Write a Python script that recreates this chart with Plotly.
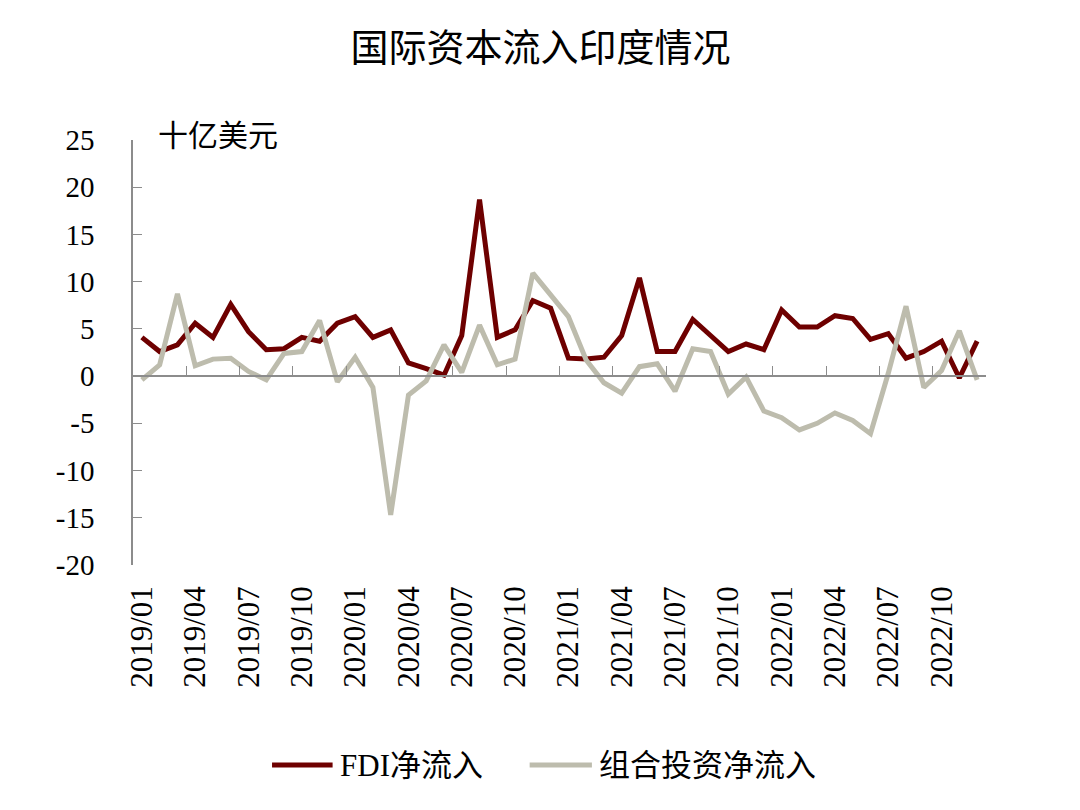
import plotly.graph_objects as go

# 月份 2019/01 - 2022/12
months = [f"{y}/{m:02d}" for y in range(2019, 2023) for m in range(1, 13)]

# FDI净流入（十亿美元）
fdi = [4.1, 2.6, 3.3, 5.6, 4.1, 7.6, 4.7, 2.8, 2.9, 4.1, 3.7, 5.6,
       6.3, 4.1, 4.9, 1.4, 0.8, 0.1, 4.3, 18.7, 4.1, 4.9, 8.0, 7.2,
       1.9, 1.8, 2.0, 4.3, 10.4, 2.6, 2.6, 6.0, 4.3, 2.6, 3.4, 2.8,
       7.0, 5.2, 5.2, 6.4, 6.1, 3.9, 4.5, 1.9, 2.6, 3.7, -0.2, 3.7]

# 组合投资净流入（十亿美元）
portfolio = [-0.4, 1.2, 8.7, 1.1, 1.8, 1.9, 0.5, -0.4, 2.4, 2.6, 5.9, -0.6,
             2.0, -1.2, -14.7, -2.0, -0.5, 3.3, 0.4, 5.4, 1.2, 1.8, 10.9, 8.6,
             6.3, 1.7, -0.7, -1.8, 1.0, 1.3, -1.6, 2.9, 2.6, -1.9, -0.1, -3.7,
             -4.4, -5.7, -5.0, -3.9, -4.7, -6.1, 0.3, 7.4, -1.2, 0.6, 4.8, -0.4]

series_names = ["FDI净流入", "组合投资净流入"]
series_colors = ["#6e0000", "#bdbcad"]
y_ticks = [25, 20, 15, 10, 5, 0, -5, -10, -15, -20]

FONT = "Liberation Serif, Noto Sans CJK SC"
AXIS_GREY = "#8c8c8c"
idx = list(range(len(months)))

fig = go.Figure()
for vals, name, col in zip([fdi, portfolio], series_names, series_colors):
    fig.add_trace(go.Scatter(x=idx, y=vals, mode="lines", name=name,
                             line=dict(color=col, width=5), showlegend=False))

# invisible trace so xaxis2 (the zero line with its ticks) is drawn
fig.add_trace(go.Scatter(x=[0], y=[0], xaxis="x2", mode="markers",
                         marker=dict(opacity=0), showlegend=False, hoverinfo="skip"))

fig.update_layout(
    width=1080, height=810,
    paper_bgcolor="white", plot_bgcolor="white",
    margin=dict(l=125, r=102, t=132, b=253),
    font=dict(family=FONT, size=29, color="black"),
    title=dict(text="国际资本流入印度情况", x=0.493, xanchor="center",
               y=0.951, yanchor="middle", automargin=False,
               font=dict(family="Noto Sans CJK SC", size=38, weight=400)),
    showlegend=False,
    xaxis=dict(range=[-0.5, len(months) - 0.5], tickvals=idx[::3],
               ticktext=months[::3], tickangle=-90, ticks="", showline=False,
               showgrid=False, zeroline=False, automargin=False,
               ticklabelstandoff=14, tickfont=dict(size=31)),
    xaxis2=dict(overlaying="x", anchor="free", position=20 / 45,
                range=[-0.5, len(months) - 0.5],
                tickvals=[i + 0.5 for i in range(-1, len(months), 3)] + [len(months) - 0.5],
                showticklabels=False, ticks="inside", ticklen=9, tickcolor=AXIS_GREY,
                showline=True, linecolor=AXIS_GREY, linewidth=1.5,
                showgrid=False, zeroline=False, automargin=False),
    yaxis=dict(range=[-20, 25], tickvals=y_ticks, ticktext=[str(v) for v in y_ticks],
               ticks="inside", ticklen=9, tickcolor=AXIS_GREY,
               showline=True, linecolor=AXIS_GREY, linewidth=1.5,
               showgrid=False, zeroline=False, ticklabelstandoff=31,
               automargin=False, tickfont=dict(size=29)),
)

# unit label
fig.add_annotation(text="十亿美元", xref="x", yref="y", x=0.8, y=25, yshift=7,
                   xanchor="left", yanchor="middle", showarrow=False,
                   font=dict(family="Noto Sans CJK SC", size=30))

# legend drawn by hand so the line samples match the original length
leg_y = -200 / 425
leg_items = [(0.163, 0.234), (0.465, 0.538)]
for (x0, x1), name, col in zip(leg_items, series_names, series_colors):
    fig.add_shape(type="line", xref="paper", yref="paper", x0=x0, x1=x1,
                  y0=leg_y, y1=leg_y, line=dict(color=col, width=5))
    fig.add_annotation(text=name, xref="paper", yref="paper", x=x1 + 0.006, y=leg_y,
                       xanchor="left", yanchor="middle", showarrow=False,
                       font=dict(family=FONT, size=31))

fig.write_html("out.html")
